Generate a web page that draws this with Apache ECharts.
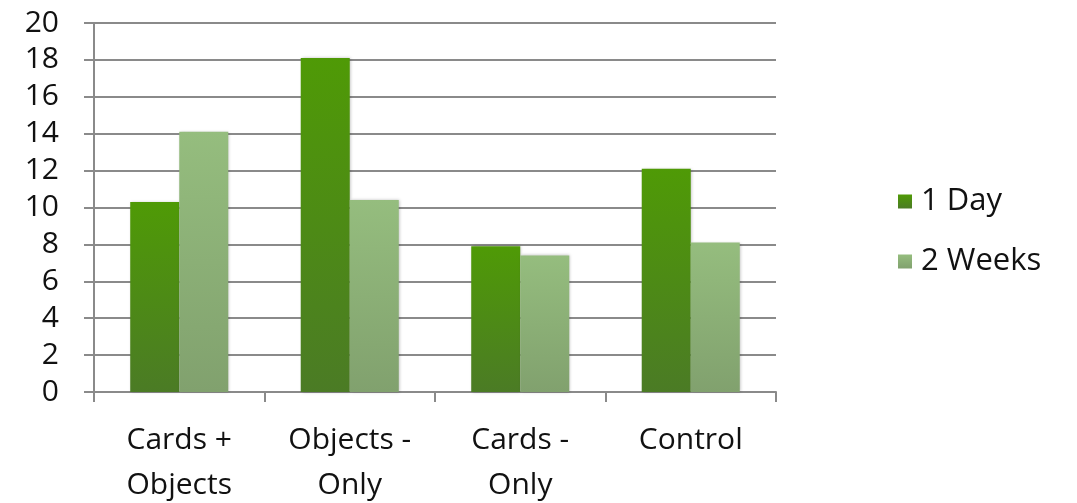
<!DOCTYPE html>
<html>
<head>
<meta charset="utf-8">
<script src="https://cdn.jsdelivr.net/npm/echarts@6/dist/echarts.min.js"></script>
<style>
    html, body { margin: 0; padding: 0; background: #fff; }
    #chart { width: 1077px; height: 503px; }
</style>
</head>
<body>
<div id="chart"></div>
<script>
var categories = ['Cards +\nObjects', 'Objects -\nOnly', 'Cards -\nOnly', 'Control']
var seriesNames = ['1 Day', '2 Weeks']
var oneDay = [10.3, 18.1, 7.9, 12.1]
var twoWeeks = [14.1, 10.4, 7.4, 8.1]
var yTicks = [0, 2, 4, 6, 8, 10, 12, 14, 16, 18, 20]

var fontFamily = '"Open Sans", "Liberation Sans", sans-serif'
var gridColor = '#8a8a8a'

function grad(top, bottom) {
    return new echarts.graphic.LinearGradient(0, 0, 0, 1, [
        { offset: 0, color: top },
        { offset: 1, color: bottom }
    ])
}

var colors = [grad('#4f9a06', '#4b7b25'), grad('#95bd7e', '#81a16e')]
var dataList = [oneDay, twoWeeks]

var series = []
for (var i = 0; i < seriesNames.length; i++) {
    series.push({
        name: seriesNames[i],
        type: 'bar',
        barGap: '0%',
        barCategoryGap: '42.5%',
        itemStyle: {
            color: colors[i],
            shadowColor: 'rgba(0,0,0,0.25)',
            shadowBlur: 3,
            shadowOffsetX: 1
        },
        data: dataList[i]
    })
}

var myChart = echarts.init(document.getElementById('chart'))
var option = {
    animation: false,
    legend: {
        orient: 'vertical',
        left: 893,
        top: 181,
        itemWidth: 14,
        itemHeight: 14,
        itemGap: 29,
        icon: 'rect',
        data: seriesNames,
        textStyle: {
            color: '#111',
            fontSize: 31,
            fontFamily: fontFamily,
            padding: [0, 0, 0, 4]
        }
    },
    grid: {
        left: 94,
        right: 301,
        top: 23,
        bottom: 111,
        outerBoundsMode: 'none',
        containLabel: false
    },
    xAxis: {
        type: 'category',
        data: categories,
        axisLine: { lineStyle: { color: gridColor, width: 2 } },
        axisTick: { show: true, length: 10, alignWithLabel: false, lineStyle: { color: gridColor, width: 2 } },
        axisLabel: {
            color: '#111',
            fontSize: 30,
            fontFamily: fontFamily,
            margin: 26,
            lineHeight: 45
        }
    },
    yAxis: {
        type: 'value',
        min: yTicks[0],
        max: yTicks[yTicks.length - 1],
        interval: 2,
        axisLine: { show: true, lineStyle: { color: gridColor, width: 2 } },
        axisTick: { show: true, length: 10, lineStyle: { color: gridColor, width: 2 } },
        axisLabel: {
            color: '#111',
            fontSize: 30,
            fontFamily: fontFamily,
            margin: 35
        },
        splitLine: { show: true, lineStyle: { color: gridColor, width: 2 } }
    },
    series: series
}
myChart.setOption(option)
</script>
</body>
</html>
